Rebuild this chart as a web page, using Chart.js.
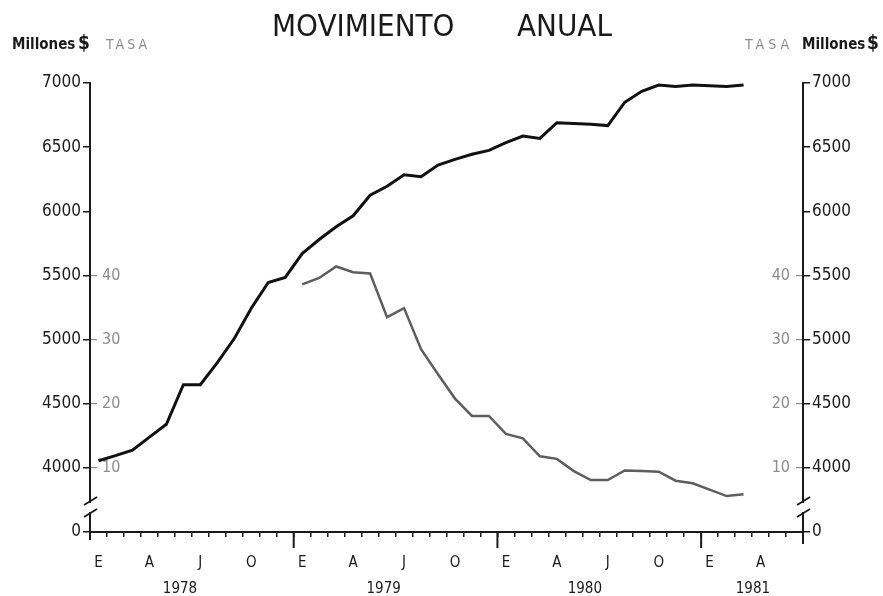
<!DOCTYPE html>
<html>
<head>
<meta charset="utf-8">
<script src="https://cdn.jsdelivr.net/npm/chart.js@4.4.0/dist/chart.umd.min.js"></script>
<style>
  html, body { margin: 0; padding: 0; background: #fff; }
  #wrap { width: 883px; height: 596px; }
</style>
</head>
<body>
<div id="wrap"><canvas id="chart" width="883" height="596"></canvas></div>
<script>
// Meses, enero 1978 a junio 1981
const months = [
  'E','F','M','A','M','J','J','A','S','O','N','D',
  'E','F','M','A','M','J','J','A','S','O','N','D',
  'E','F','M','A','M','J','J','A','S','O','N','D',
  'E','F','M','A','M','J'
];

// Movimiento anual (millones $), ene 1978 - mar 1981
const millones = [
  4055, 4095, 4138, 4240, 4340, 4648, 4648, 4820, 5008, 5244, 5445, 5484,
  5670, 5780, 5880, 5965, 6125, 6195, 6285, 6270, 6360, 6405, 6445, 6475,
  6535, 6586, 6568, 6690, 6685, 6678, 6668, 6850, 6935, 6984, 6972, 6984,
  6978, 6972, 6984
];

// Tasa (%), ene 1979 - mar 1981
const tasa = [
  null, null, null, null, null, null, null, null, null, null, null, null,
  38.6, 39.6, 41.4, 40.5, 40.3, 33.5, 34.9, 28.5, 24.6, 20.8, 18.1, 18.1,
  15.3, 14.6, 11.8, 11.4, 9.5, 8.1, 8.1, 9.6, 9.5, 9.4, 8.0, 7.6,
  6.6, 5.6, 5.9
];

// Eje cortado: el 0 ocupa el lugar de 3500
const millonesTicks = [3500, 4000, 4500, 5000, 5500, 6000, 6500, 7000];
const millonesLabels = ['0', '4000', '4500', '5000', '5500', '6000', '6500', '7000'];
const tasaTicks = [10, 20, 30, 40];
const years = ['1978', '1979', '1980', '1981'];
const yearPos = [5.3, 17.3, 29.15, 39.05];

const FONT = "'DejaVu Sans Condensed', 'DejaVu Sans', sans-serif";
const INK = '#1a1a1a';
const GREY = '#8c8c8c';

function yAxis(pos, weight, width) {
  return {
    position: pos,
    weight: weight,
    min: 3500,
    max: 7000,
    afterBuildTicks: s => { s.ticks = millonesTicks.map(v => ({ value: v })); },
    afterFit: s => { s.width = width; },
    grid: { drawOnChartArea: false, tickLength: 7, color: INK, lineWidth: 1.5 },
    border: { color: INK, width: 2 },
    ticks: {
      padding: 2,
      color: INK,
      font: { family: FONT, size: 17 },
      callback: (v, i) => millonesLabels[i]
    }
  };
}

function tasaAxis(pos) {
  return {
    position: pos,
    weight: 0,
    min: 0,
    max: 70,
    afterBuildTicks: s => { s.ticks = tasaTicks.map(v => ({ value: v })); },
    afterFit: s => { s.width = 0; },
    grid: { drawOnChartArea: false, tickLength: -7, color: GREY, lineWidth: 1.2 },
    border: { display: false },
    ticks: {
      mirror: true,
      padding: pos === 'left' ? 12 : -13,
      color: GREY,
      font: { family: FONT, size: 16 },
      callback: v => String(v)
    }
  };
}

// Titulo, rotulos de ejes, cortes de eje y marcas de año
const extras = {
  id: 'extras',
  afterDraw(chart) {
    const c = chart.ctx;
    const area = chart.chartArea;
    const x = chart.scales.x;
    c.save();

    c.fillStyle = INK;
    c.textBaseline = 'middle';
    c.font = "31px " + FONT;
    c.textAlign = 'left';
    c.fillText('MOVIMIENTO', 272, 28);
    c.fillText('ANUAL', 517, 28);

    c.font = "bold 15px " + FONT;
    c.fillText('Millones', 12, 45);
    c.fillText('Millones', 802, 45);
    c.font = "bold 19px " + FONT;
    c.fillText('$', 78, 44);
    c.fillText('$', 867, 44);

    c.fillStyle = GREY;
    c.font = "14px " + FONT;
    c.letterSpacing = '3px';
    c.fillText('TASA', 106, 45);
    c.letterSpacing = '4px';
    c.fillText('TASA', 745, 45);
    c.letterSpacing = '0px';

    // ejes que bajan un poco del eje x
    c.strokeStyle = INK;
    c.lineWidth = 2;
    c.beginPath();
    c.moveTo(area.left, area.bottom);
    c.lineTo(area.left, area.bottom + 8);
    c.moveTo(area.right, area.bottom);
    c.lineTo(area.right, area.bottom + 12);
    c.stroke();

    // marcas de cambio de año
    [12, 24, 36].forEach(m => {
      const px = (x.getPixelForValue(m - 1) + x.getPixelForValue(m)) / 2;
      c.beginPath();
      c.moveTo(px, area.bottom);
      c.lineTo(px, area.bottom + 16);
      c.stroke();
    });

    // corte del eje vertical
    [area.left, area.right].forEach(ax => {
      c.fillStyle = '#fff';
      c.fillRect(ax - 3, 503, 6, 9);
      c.strokeStyle = INK;
      c.lineWidth = 1.8;
      c.beginPath();
      c.moveTo(ax - 6, 505);
      c.lineTo(ax + 7, 497);
      c.moveTo(ax - 6, 517);
      c.lineTo(ax + 7, 509);
      c.stroke();
    });
    c.restore();
  }
};

const ctx = document.getElementById('chart').getContext('2d');
new Chart(ctx, {
  type: 'line',
  data: {
    labels: months,
    datasets: [
      {
        label: 'Millones $',
        data: millones,
        yAxisID: 'y',
        borderColor: '#111',
        borderWidth: 3,
        pointRadius: 0,
        tension: 0
      },
      {
        label: 'TASA',
        data: tasa,
        yAxisID: 'yt',
        borderColor: '#5e5e5e',
        borderWidth: 2.5,
        pointRadius: 0,
        tension: 0
      }
    ]
  },
  options: {
    responsive: false,
    animation: false,
    layout: { padding: { top: 83, left: 0, right: 0, bottom: 0 } },
    plugins: {
      legend: { display: false },
      tooltip: { enabled: false },
      title: { display: false }
    },
    scales: {
      x: {
        type: 'category',
        position: 'bottom',
        weight: 0,
        offset: true,
        afterFit: s => { s.height = 40; },
        grid: { offset: true, drawOnChartArea: false, tickLength: 5, color: INK, lineWidth: 1.5 },
        border: { color: INK, width: 2 },
        ticks: {
          autoSkip: false,
          maxRotation: 0,
          padding: 17,
          color: INK,
          font: { family: FONT, size: 15 },
          callback: (v, i) => (i % 3 === 0 ? months[i] : '')
        }
      },
      years: {
        type: 'linear',
        position: 'bottom',
        weight: 1,
        min: 0,
        max: 42,
        afterBuildTicks: s => { s.ticks = yearPos.map(v => ({ value: v })); },
        afterFit: s => { s.height = 24; },
        grid: { display: false, drawTicks: false },
        border: { display: false },
        ticks: {
          padding: 8,
          color: INK,
          font: { family: FONT, size: 15 },
          callback: (v, i) => years[i]
        }
      },
      y: yAxis('left', 1, 90),
      yt: tasaAxis('left'),
      y2: yAxis('right', 1, 80),
      yt2: tasaAxis('right')
    }
  },
  plugins: [extras]
});
</script>
</body>
</html>
